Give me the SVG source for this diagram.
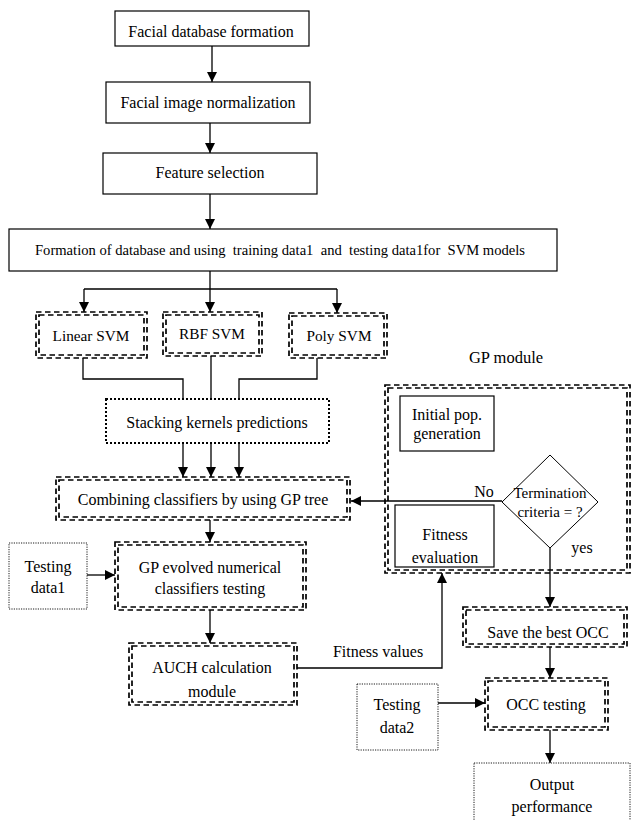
<svg xmlns="http://www.w3.org/2000/svg" width="634" height="820" viewBox="0 0 634 820" font-family="'Liberation Serif', 'Times New Roman', 'DejaVu Serif', serif">
<defs>
<marker id="ah" viewBox="0 0 10 10" refX="10" refY="5" markerWidth="10" markerHeight="10" markerUnits="userSpaceOnUse" orient="auto">
<path d="M0,0 L10,5 L0,10 z" fill="#000"/>
</marker>
</defs>
<style>
text{font-family:'Liberation Serif','Times New Roman','DejaVu Serif',serif;font-size:16px;fill:#000;text-anchor:middle}
.sm{font-size:15px}
.pre{white-space:pre;font-size:14.6px}
.solid{fill:#fff;stroke:#000;stroke-width:1.2}
.dd{fill:none;stroke:#000;stroke-width:1.7;stroke-dasharray:5.5 3.5}
.dot{fill:#fff;stroke:#000;stroke-width:2;stroke-dasharray:2 2}
.fdot{fill:#fff;stroke:#000;stroke-width:0.9;stroke-dasharray:1.2 1.2}
.ln{fill:none;stroke:#000;stroke-width:1.3}
.ar{fill:none;stroke:#000;stroke-width:1.3;marker-end:url(#ah)}
</style>
<rect width="634" height="820" fill="#fff"/>
<g id="connectors">
<line class="ar" x1="212" y1="46" x2="212" y2="82"/>
<line class="ar" x1="210" y1="123" x2="210" y2="153"/>
<line class="ar" x1="210" y1="194" x2="210" y2="229"/>
<polyline class="ln" points="210,271 210,289"/>
<polyline class="ln" points="84,289 337,289"/>
<line class="ar" x1="84" y1="289" x2="84" y2="312"/>
<line class="ar" x1="210" y1="289" x2="210" y2="312"/>
<line class="ar" x1="337" y1="289" x2="337" y2="313"/>
<polyline class="ln" points="83,358 83,379 183,379 183,399"/>
<polyline class="ln" points="211,356 211,399"/>
<polyline class="ln" points="317,358 317,379 239,379 239,399"/>
<line class="ar" x1="183" y1="443" x2="183" y2="477"/>
<line class="ar" x1="211" y1="443" x2="211" y2="477"/>
<line class="ar" x1="239" y1="443" x2="239" y2="477"/>
<line class="ar" x1="502" y1="501" x2="351" y2="501"/>
<line class="ar" x1="210" y1="520" x2="210" y2="542"/>
<line class="ar" x1="87" y1="575" x2="115" y2="575"/>
<line class="ar" x1="210" y1="610" x2="210" y2="643"/>
<polyline class="ar" points="297,668 442,668 442,573"/>
<line class="ar" x1="550" y1="548" x2="550" y2="607"/>
<line class="ar" x1="550" y1="647" x2="550" y2="678"/>
<line class="ar" x1="438" y1="703" x2="485" y2="703"/>
<line class="ar" x1="550" y1="730" x2="550" y2="763"/>
</g>
<g id="n1"><rect class="solid" x="115" y="11" width="194" height="35"/><text x="211" y="37">Facial database formation</text></g>
<g id="n2"><rect class="solid" x="106" y="82" width="204" height="41"/><text x="208" y="108">Facial image normalization</text></g>
<g id="n3"><rect class="solid" x="103" y="153" width="214" height="41"/><text x="210" y="178">Feature selection</text></g>
<g id="n4"><rect class="solid" x="9" y="229" width="548" height="42"/><text class="pre" x="280" y="255" xml:space="preserve">Formation of database and using  training data1  and  testing data1for  SVM models</text></g>
<g id="linear"><rect class="dd" x="36" y="312" width="111" height="46"/><rect class="dd" x="39" y="315" width="105" height="40"/><text x="91" y="341" style="font-size:15.3px">Linear SVM</text></g>
<g id="rbf"><rect class="dd" x="163" y="312" width="99" height="44"/><rect class="dd" x="166" y="315" width="93" height="38"/><text x="212" y="339" style="font-size:15.3px">RBF SVM</text></g>
<g id="poly"><rect class="dd" x="289" y="313" width="98" height="45"/><rect class="dd" x="292" y="316" width="92" height="39"/><text x="339" y="341" style="font-size:15.3px">Poly SVM</text></g>
<g id="stacking"><rect class="dot" x="106" y="399" width="223" height="44"/><text x="217" y="428">Stacking kernels predictions</text></g>
<g id="combining"><rect class="dd" x="56" y="477" width="294" height="43"/><rect class="dd" x="59" y="480" width="288" height="37"/><text x="203" y="505">Combining classifiers by using GP tree</text></g>
<g id="testing1"><rect class="fdot" x="9" y="543" width="78" height="66"/><text x="48" y="572">Testing</text><text x="48" y="593">data1</text></g>
<g id="gpevolved"><rect class="dd" x="115" y="542" width="191" height="68"/><rect class="dd" x="118" y="545" width="185" height="62"/><text x="210" y="573">GP evolved numerical</text><text x="210" y="594">classifiers testing</text></g>
<g id="auch"><rect class="dd" x="129" y="643" width="168" height="62"/><rect class="dd" x="132" y="646" width="162" height="56"/><text x="212" y="673">AUCH calculation</text><text x="212" y="697">module</text></g>
<g id="fitnessvalues"><text x="378" y="657">Fitness values</text></g>
<g id="gpmodule"><text x="506" y="363" style="font-size:16.5px">GP module</text><rect class="dd" x="385" y="385" width="245" height="188"/><rect class="dd" x="388" y="388" width="239" height="182"/></g>
<g id="initpop"><rect class="solid" x="400" y="396" width="94" height="55"/><text x="447" y="420">Initial pop.</text><text x="447" y="439">generation</text></g>
<g id="fitness"><rect class="solid" x="395" y="505" width="99" height="62"/><text x="445" y="540">Fitness</text><text x="445" y="563">evaluation</text></g>
<g id="termination"><polygon points="550,455 598,502 550,548 502,502" fill="#fff" stroke="#000" stroke-width="1"/><text class="sm" x="550" y="498">Termination</text><text class="sm" x="550" y="517">criteria = ?</text></g>
<g id="labels"><text x="484" y="497">No</text><text x="582" y="553">yes</text></g>
<g id="save"><rect class="dd" x="463" y="607" width="164" height="40"/><rect class="dd" x="466" y="610" width="158" height="34"/><text x="548" y="638">Save the best OCC</text></g>
<g id="testing2"><rect class="fdot" x="357" y="684" width="81" height="66"/><text x="397" y="710">Testing</text><text x="397" y="733">data2</text></g>
<g id="occ"><rect class="dd" x="485" y="678" width="123" height="52"/><rect class="dd" x="488" y="681" width="117" height="46"/><text x="546" y="710">OCC testing</text></g>
<g id="output"><rect class="fdot" x="474" y="763" width="156" height="62"/><text x="552" y="790">Output</text><text x="552" y="812">performance</text></g>
</svg>
